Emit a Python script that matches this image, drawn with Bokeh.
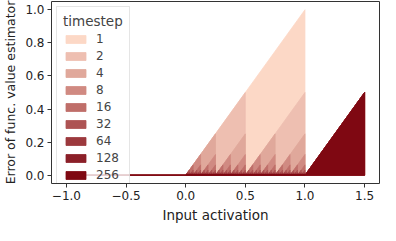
from bokeh.plotting import figure
from bokeh.models import Range1d, CustomJSTickFormatter, FixedTicker, Legend, LegendItem
from bokeh.embed import file_html
from bokeh.resources import INLINE

# ---- data ----
timesteps = [1, 2, 4, 8, 16, 32, 64, 128, 256]
x_start, x_end = -1.0, 1.5          # input activation domain
act_lo, act_hi = 0.0, 1.0            # representable activation range
x_ticks = [-1.0, -0.5, 0.0, 0.5, 1.0, 1.5]
y_ticks = [0.0, 0.2, 0.4, 0.6, 0.8, 1.0]

palette = ["#fcd8c6", "#eebfb1", "#e0a89b", "#d08a82", "#bf6e69",
           "#ad5353", "#9c393d", "#8b1f28", "#7f0812"]

FONT = "DejaVu Sans"

def error_outline(T):
    # vertices of the estimator error |x - q_T(x)| for T timesteps
    xs, ys = [x_start, act_lo], [0.0, 0.0]
    step = (act_hi - act_lo) / T
    for k in range(T):
        a = act_lo + k * step
        b = a + step
        xs += [a, b, b]
        ys += [0.0, step, 0.0]
    xs += [act_hi, x_end, x_end]
    ys += [0.0, x_end - act_hi, 0.0]
    return xs, ys

p = figure(width=380, height=225, output_backend="svg", toolbar_location=None,
           x_range=Range1d(-1.125, 1.625), y_range=Range1d(-0.05, 1.05),
           min_border_left=42, min_border_right=1, min_border_top=1, min_border_bottom=34)

items = []
for T, c in zip(timesteps, palette):
    xs, ys = error_outline(T)
    r = p.patch(xs, ys, fill_color=c, line_color=c, line_width=0.8)
    items.append(LegendItem(label=str(T), renderers=[r]))

p.xaxis.ticker = FixedTicker(ticks=x_ticks)
p.yaxis.ticker = FixedTicker(ticks=y_ticks)
p.xaxis.formatter = CustomJSTickFormatter(code="return tick.toFixed(1).replace('-', '\u2212');")
p.yaxis.formatter = CustomJSTickFormatter(code="return tick.toFixed(1);")

p.xaxis.axis_label = "Input activation"
p.yaxis.axis_label = "Error of func. value estimator"
for ax in (p.xaxis[0], p.yaxis[0]):
    ax.axis_label_text_font = FONT
    ax.axis_label_text_font_style = "normal"
    ax.axis_label_text_color = "#222222"
    ax.major_label_text_font = FONT
    ax.major_label_text_font_size = "12px"
    ax.major_label_text_color = "#222222"
    ax.axis_line_color = None
    ax.major_tick_line_color = "#333333"
    ax.major_tick_out = 4
    ax.major_tick_in = 0
    ax.minor_tick_line_color = None
    ax.axis_label_standoff = 4
    ax.major_label_standoff = 3
p.xaxis.axis_label_text_font_size = "13.5px"
p.yaxis.axis_label_text_font_size = "12.5px"

p.xgrid.visible = False
p.ygrid.visible = False
p.outline_line_color = "#333333"
p.outline_line_width = 1

legend = Legend(items=items, location="top_left", title="timestep")
legend.title_text_font = FONT
legend.title_text_font_size = "13.5px"
legend.title_text_font_style = "normal"
legend.title_standoff = 3
legend.label_text_font = FONT
legend.label_text_font_size = "12px"
legend.label_height = 14
legend.glyph_height = 10
legend.glyph_width = 25
legend.spacing = 3
legend.padding = 6
legend.margin = 5
legend.label_standoff = 8
legend.background_fill_alpha = 0.8
legend.border_line_color = "#cccccc"
legend.border_line_width = 1
p.add_layout(legend)

open("out.html", "w").write(file_html(p, INLINE))
